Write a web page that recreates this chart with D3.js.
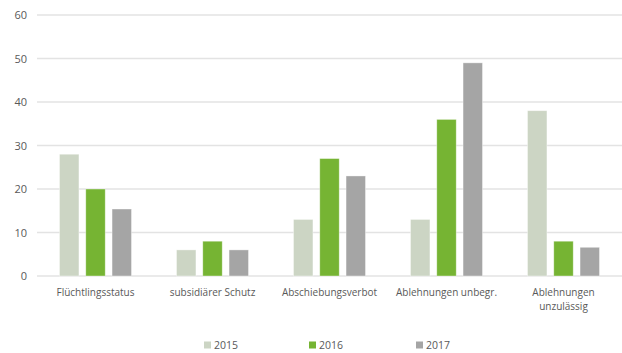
<!DOCTYPE html>
<html>
<head>
<meta charset="utf-8">
<script src="https://cdn.jsdelivr.net/npm/d3@7"></script>
<style>
    body { margin: 0; background: #fff; }
    svg text { font-family: "Open Sans", "Liberation Sans", sans-serif; fill: #595959; }
</style>
</head>
<body>
<div class="chart"><svg></svg></div>
<script>
// data
let categories = ["Flüchtlingsstatus", "subsidiärer Schutz", "Abschiebungsverbot", "Ablehnungen unbegr.", "Ablehnungen unzulässig"];
let years = ["2015", "2016", "2017"];
let values2015 = [28, 6, 13, 13, 38];
let values2016 = [20, 8, 27, 36, 8];
let values2017 = [15.4, 6, 23, 49, 6.6];
let yTicks = [0, 10, 20, 30, 40, 50, 60];
let colors = ["#ccd5c4", "#76b433", "#a5a5a5"];

let series = [values2015, values2016, values2017];

let width = 622, height = 353;
let margin = {left: 37, right: 0, top: 15, bottom: 77};

let svg = d3.select(".chart svg")
    .attr("width", width)
    .attr("height", height);

//Scales
let xScale = d3.scaleBand()
    .domain(categories)
    .range([margin.left, width - margin.right])
    .paddingInner(0)
    .paddingOuter(0);

let xInner = d3.scaleBand()
    .domain(years)
    .range([0, 72])
    .paddingInner(0.26);

let yScale = d3.scaleLinear()
    .domain([0, 60])
    .range([height - margin.bottom, margin.top]);

// gridlines
svg.append("g")
    .selectAll("line")
    .data(yTicks)
    .enter()
    .append("line")
    .attr("x1", margin.left)
    .attr("x2", width - margin.right)
    .attr("y1", d => yScale(d))
    .attr("y2", d => yScale(d))
    .attr("stroke", "#e3e3e3")
    .attr("stroke-width", 1.5);

// y axis labels
let yAxis = d3.axisLeft(yScale)
    .tickValues(yTicks)
    .tickSize(0)
    .tickPadding(10);

let yG = svg.append("g")
    .attr("transform", "translate(" + margin.left + ",0)")
    .call(yAxis);
yG.select(".domain").remove();
yG.selectAll("text")
    .style("font-size", "11px")
    .style("fill", "#595959")
    .style("font-family", "'Open Sans', sans-serif");

// bars
let groups = svg.append("g")
    .selectAll("g")
    .data(categories)
    .enter()
    .append("g")
    .attr("transform", d => "translate(" + (xScale(d) + (xScale.bandwidth() - 72) / 2) + ",0)");

groups.selectAll("rect")
    .data((d, i) => years.map((y, j) => ({year: y, value: series[j][i], idx: j})))
    .enter()
    .append("rect")
    .attr("x", d => xInner(d.year))
    .attr("y", d => yScale(d.value))
    .attr("width", xInner.bandwidth())
    .attr("height", d => yScale(0) - yScale(d.value))
    .attr("fill", d => colors[d.idx])
    .attr("stroke", "#ffffff")
    .attr("stroke-opacity", 0.5)
    .attr("stroke-width", 0.75);

// x axis labels
let xAxis = d3.axisBottom(xScale).tickSize(0).tickPadding(13);
let xG = svg.append("g")
    .attr("transform", "translate(0," + yScale(0) + ")")
    .call(xAxis);
xG.select(".domain").remove();
xG.selectAll("text")
    .style("font-size", "10px")
    .style("fill", "#595959")
    .style("font-family", "'Open Sans', sans-serif")
    .each(function(d) {
        if (d === "Ablehnungen unzulässig") {
            let t = d3.select(this);
            t.text(null);
            let words = d.split(" ");
            t.append("tspan").attr("x", 0).attr("dy", "0.71em").text(words[0]);
            t.append("tspan").attr("x", 0).attr("dy", "1.35em").text(words[1]);
            t.attr("dy", null);
        }
    });

// legend
let legendX = [204, 309, 416];
let legend = svg.append("g")
    .selectAll("g")
    .data(years)
    .enter()
    .append("g")
    .attr("transform", (d, i) => "translate(" + legendX[i] + ",345)");

legend.append("rect")
    .attr("x", 0)
    .attr("y", -3.5)
    .attr("width", 7)
    .attr("height", 7)
    .attr("fill", (d, i) => colors[i]);

legend.append("text")
    .attr("x", 10)
    .attr("y", 0)
    .attr("dy", "0.35em")
    .style("font-size", "10.5px")
    .text(d => d);
</script>
</body>
</html>
